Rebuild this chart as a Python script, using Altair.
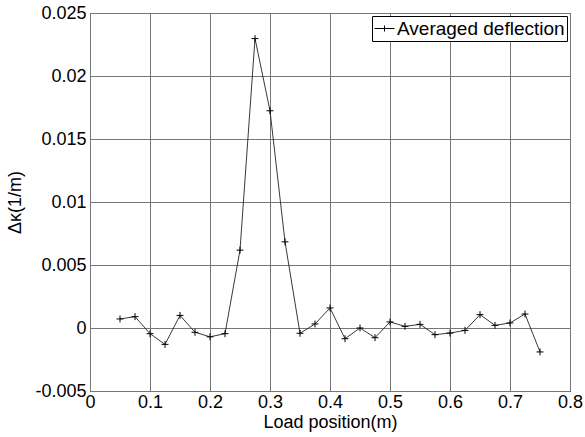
import altair as alt
import pandas as pd

load_pos = [0.05, 0.075, 0.1, 0.125, 0.15, 0.175, 0.2, 0.225, 0.25, 0.275,
            0.3, 0.325, 0.35, 0.375, 0.4, 0.425, 0.45, 0.475, 0.5, 0.525,
            0.55, 0.575, 0.6, 0.625, 0.65, 0.675, 0.7, 0.725, 0.75]
delta_kappa = [0.00072, 0.0009, -0.00045, -0.0013, 0.001, -0.00034, -0.0007, -0.00045,
               0.00618, 0.02297, 0.01724, 0.00684, -0.00042, 0.00032, 0.00159,
               -0.00085, 0.0, -0.00077, 0.00048, 0.00013, 0.00029, -0.00053,
               -0.0004, -0.00019, 0.00106, 0.00021, 0.0004, 0.00111, -0.0019]
series_name = "Averaged deflection"

x_ticks = [0, 0.1, 0.2, 0.3, 0.4, 0.5, 0.6, 0.7, 0.8]
y_ticks = [-0.005, 0, 0.005, 0.01, 0.015, 0.02, 0.025]

df = pd.DataFrame({"x": load_pos, "y": delta_kappa, "s": series_name})

FONT = "Liberation Sans"
plus_path = "M-1,0H1M0,-1V1"
legend_path = "M-1,0H1M0,-0.3V0.3"

x_enc = alt.X("x:Q", scale=alt.Scale(domain=[0, 0.8], nice=False, zero=False),
              axis=alt.Axis(values=x_ticks, title="Load position(m)",
                            labelExpr="'' + datum.value"))
y_enc = alt.Y("y:Q", scale=alt.Scale(domain=[-0.005, 0.025], nice=False, zero=False),
              axis=alt.Axis(values=y_ticks, title="Δκ(1/m)",
                            labelExpr="'' + datum.value"))
color_enc = alt.Color("s:N", scale=alt.Scale(range=["black"]),
                      legend=alt.Legend(title=None, orient="top-right", offset=3,
                                        labelFontSize=19, labelFont=FONT, labelColor="black",
                                        labelLimit=400,
                                        strokeColor="black", fillColor="white",
                                        padding=2, cornerRadius=0, labelOffset=2,
                                        symbolType=legend_path, symbolSize=400,
                                        symbolOpacity=1, symbolStrokeWidth=1,
                                        symbolStrokeColor="black"))

line = alt.Chart(df).mark_line(strokeWidth=0.9, color="#222").encode(
    x=x_enc, y=y_enc
)
points = alt.Chart(df).mark_point(shape=plus_path, size=48, filled=False,
                                  strokeWidth=1, opacity=1, color="black").encode(
    x=x_enc, y=y_enc
)
legend_layer = alt.Chart(df).mark_point(shape=legend_path, size=400, filled=False,
                                        strokeWidth=1, opacity=0).encode(
    x=x_enc, y=y_enc, color=color_enc
)

chart = alt.layer(line, points, legend_layer).properties(
    width=480, height=378,
    autosize=alt.AutoSizeParams(type="none"),
    padding={"left": 90, "top": 13, "right": 15, "bottom": 46},
    background="white",
).configure_view(
    stroke="black", strokeWidth=1
).configure_axis(
    grid=True, gridColor="#777777", gridWidth=1, gridOpacity=1,
    domain=False, ticks=False, labelFlush=False, labelOverlap=False,
    labelFont=FONT, labelFontSize=18, labelColor="black",
    titleFont=FONT, titleFontSize=18, titleFontWeight="normal", titleColor="black",
).configure_axisX(
    labelPadding=2, titlePadding=2
).configure_axisY(
    labelPadding=4, titlePadding=10
)

chart.save("out.html", embed_options={"renderer": "svg", "actions": False})
